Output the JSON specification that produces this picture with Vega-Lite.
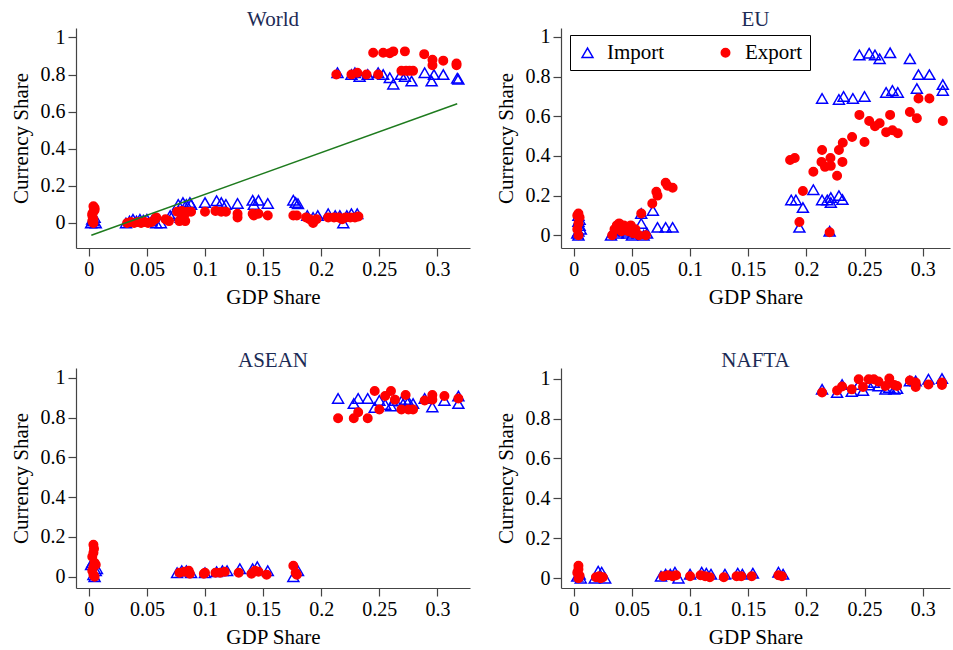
{
"$schema": "https://vega.github.io/schema/vega-lite/v6.json",
"padding": {"left": 10, "top": 8, "right": 0, "bottom": 0},
"background": "white",
"bounds": "flush",
"columns": 2,
"spacing": {"row": 120, "column": 91},
"resolve": {"legend": {"shape": "independent", "fill": "independent", "stroke": "independent", "size": "independent"}},
"datasets": {
"fit": [{"gdp": 0.0022, "share": -0.066}, {"gdp": 0.317, "share": 0.643}],
"points": [
{"panel":"World","type":"Import","gdp":0.002,"share":0.0},{"panel":"World","type":"Import","gdp":0.004,"share":0.01},{"panel":"World","type":"Import","gdp":0.005,"share":0.03},{"panel":"World","type":"Import","gdp":0.003,"share":0.02},{"panel":"World","type":"Import","gdp":0.006,"share":0.0},
{"panel":"World","type":"Import","gdp":0.032,"share":0.0},{"panel":"World","type":"Import","gdp":0.035,"share":0.01},{"panel":"World","type":"Import","gdp":0.038,"share":0.02},{"panel":"World","type":"Import","gdp":0.041,"share":0.01},{"panel":"World","type":"Import","gdp":0.044,"share":0.02},{"panel":"World","type":"Import","gdp":0.047,"share":0.015},{"panel":"World","type":"Import","gdp":0.05,"share":0.02},{"panel":"World","type":"Import","gdp":0.054,"share":0.01},{"panel":"World","type":"Import","gdp":0.058,"share":0.0},{"panel":"World","type":"Import","gdp":0.062,"share":0.0},
{"panel":"World","type":"Import","gdp":0.07,"share":0.04},{"panel":"World","type":"Import","gdp":0.073,"share":0.05},{"panel":"World","type":"Import","gdp":0.077,"share":0.1},{"panel":"World","type":"Import","gdp":0.079,"share":0.03},{"panel":"World","type":"Import","gdp":0.081,"share":0.11},{"panel":"World","type":"Import","gdp":0.084,"share":0.1},{"panel":"World","type":"Import","gdp":0.087,"share":0.11},{"panel":"World","type":"Import","gdp":0.088,"share":0.1},
{"panel":"World","type":"Import","gdp":0.1,"share":0.11},{"panel":"World","type":"Import","gdp":0.11,"share":0.12},{"panel":"World","type":"Import","gdp":0.114,"share":0.11},{"panel":"World","type":"Import","gdp":0.118,"share":0.1},{"panel":"World","type":"Import","gdp":0.128,"share":0.105},
{"panel":"World","type":"Import","gdp":0.141,"share":0.122},{"panel":"World","type":"Import","gdp":0.142,"share":0.1},{"panel":"World","type":"Import","gdp":0.146,"share":0.122},{"panel":"World","type":"Import","gdp":0.154,"share":0.105},
{"panel":"World","type":"Import","gdp":0.176,"share":0.123},{"panel":"World","type":"Import","gdp":0.18,"share":0.104},{"panel":"World","type":"Import","gdp":0.178,"share":0.11},
{"panel":"World","type":"Import","gdp":0.188,"share":0.04},{"panel":"World","type":"Import","gdp":0.193,"share":0.03},{"panel":"World","type":"Import","gdp":0.197,"share":0.04},
{"panel":"World","type":"Import","gdp":0.206,"share":0.05},{"panel":"World","type":"Import","gdp":0.212,"share":0.04},{"panel":"World","type":"Import","gdp":0.216,"share":0.04},{"panel":"World","type":"Import","gdp":0.219,"share":0.0},{"panel":"World","type":"Import","gdp":0.222,"share":0.04},{"panel":"World","type":"Import","gdp":0.226,"share":0.05},{"panel":"World","type":"Import","gdp":0.231,"share":0.05},
{"panel":"World","type":"Import","gdp":0.214,"share":0.81},{"panel":"World","type":"Import","gdp":0.226,"share":0.80},{"panel":"World","type":"Import","gdp":0.229,"share":0.81},{"panel":"World","type":"Import","gdp":0.233,"share":0.79},{"panel":"World","type":"Import","gdp":0.24,"share":0.80},{"panel":"World","type":"Import","gdp":0.249,"share":0.81},{"panel":"World","type":"Import","gdp":0.2533,"share":0.80},{"panel":"World","type":"Import","gdp":0.259,"share":0.783},{"panel":"World","type":"Import","gdp":0.262,"share":0.748},{"panel":"World","type":"Import","gdp":0.2685,"share":0.80},{"panel":"World","type":"Import","gdp":0.272,"share":0.79},{"panel":"World","type":"Import","gdp":0.2777,"share":0.765},{"panel":"World","type":"Import","gdp":0.289,"share":0.81},{"panel":"World","type":"Import","gdp":0.295,"share":0.765},{"panel":"World","type":"Import","gdp":0.297,"share":0.80},{"panel":"World","type":"Import","gdp":0.305,"share":0.80},{"panel":"World","type":"Import","gdp":0.317,"share":0.78},{"panel":"World","type":"Import","gdp":0.318,"share":0.775},
{"panel":"World","type":"Export","gdp":0.004,"share":0.0},{"panel":"World","type":"Export","gdp":0.004,"share":0.02},{"panel":"World","type":"Export","gdp":0.003,"share":0.04},{"panel":"World","type":"Export","gdp":0.004,"share":0.06},{"panel":"World","type":"Export","gdp":0.005,"share":0.08},{"panel":"World","type":"Export","gdp":0.004,"share":0.09},{"panel":"World","type":"Export","gdp":0.003,"share":0.05},{"panel":"World","type":"Export","gdp":0.005,"share":0.07},{"panel":"World","type":"Export","gdp":0.003,"share":0.01},
{"panel":"World","type":"Export","gdp":0.033,"share":0.0},{"panel":"World","type":"Export","gdp":0.036,"share":0.005},{"panel":"World","type":"Export","gdp":0.039,"share":0.0},{"panel":"World","type":"Export","gdp":0.042,"share":0.005},{"panel":"World","type":"Export","gdp":0.045,"share":0.0},{"panel":"World","type":"Export","gdp":0.048,"share":0.005},{"panel":"World","type":"Export","gdp":0.051,"share":0.0},{"panel":"World","type":"Export","gdp":0.054,"share":0.005},{"panel":"World","type":"Export","gdp":0.057,"share":0.02},{"panel":"World","type":"Export","gdp":0.058,"share":0.03},
{"panel":"World","type":"Export","gdp":0.066,"share":0.02},{"panel":"World","type":"Export","gdp":0.069,"share":0.01},{"panel":"World","type":"Export","gdp":0.076,"share":0.06},{"panel":"World","type":"Export","gdp":0.078,"share":0.01},{"panel":"World","type":"Export","gdp":0.08,"share":0.065},{"panel":"World","type":"Export","gdp":0.082,"share":0.04},{"panel":"World","type":"Export","gdp":0.083,"share":0.01},{"panel":"World","type":"Export","gdp":0.085,"share":0.06},{"panel":"World","type":"Export","gdp":0.088,"share":0.06},
{"panel":"World","type":"Export","gdp":0.1,"share":0.06},{"panel":"World","type":"Export","gdp":0.109,"share":0.065},{"panel":"World","type":"Export","gdp":0.114,"share":0.06},{"panel":"World","type":"Export","gdp":0.118,"share":0.06},{"panel":"World","type":"Export","gdp":0.128,"share":0.05},{"panel":"World","type":"Export","gdp":0.128,"share":0.03},
{"panel":"World","type":"Export","gdp":0.141,"share":0.05},{"panel":"World","type":"Export","gdp":0.142,"share":0.04},{"panel":"World","type":"Export","gdp":0.146,"share":0.05},{"panel":"World","type":"Export","gdp":0.154,"share":0.04},{"panel":"World","type":"Export","gdp":0.176,"share":0.04},{"panel":"World","type":"Export","gdp":0.179,"share":0.04},
{"panel":"World","type":"Export","gdp":0.187,"share":0.03},{"panel":"World","type":"Export","gdp":0.19,"share":0.02},{"panel":"World","type":"Export","gdp":0.193,"share":0.0},{"panel":"World","type":"Export","gdp":0.196,"share":0.02},
{"panel":"World","type":"Export","gdp":0.206,"share":0.03},{"panel":"World","type":"Export","gdp":0.211,"share":0.03},{"panel":"World","type":"Export","gdp":0.215,"share":0.03},{"panel":"World","type":"Export","gdp":0.218,"share":0.02},{"panel":"World","type":"Export","gdp":0.221,"share":0.03},{"panel":"World","type":"Export","gdp":0.225,"share":0.03},{"panel":"World","type":"Export","gdp":0.229,"share":0.03},{"panel":"World","type":"Export","gdp":0.232,"share":0.035},
{"panel":"World","type":"Export","gdp":0.213,"share":0.80},{"panel":"World","type":"Export","gdp":0.226,"share":0.80},{"panel":"World","type":"Export","gdp":0.231,"share":0.81},{"panel":"World","type":"Export","gdp":0.239,"share":0.80},{"panel":"World","type":"Export","gdp":0.2447,"share":0.918},{"panel":"World","type":"Export","gdp":0.249,"share":0.80},{"panel":"World","type":"Export","gdp":0.2533,"share":0.918},{"panel":"World","type":"Export","gdp":0.259,"share":0.915},{"panel":"World","type":"Export","gdp":0.262,"share":0.925},{"panel":"World","type":"Export","gdp":0.269,"share":0.82},{"panel":"World","type":"Export","gdp":0.272,"share":0.925},{"panel":"World","type":"Export","gdp":0.273,"share":0.82},{"panel":"World","type":"Export","gdp":0.276,"share":0.82},{"panel":"World","type":"Export","gdp":0.279,"share":0.82},{"panel":"World","type":"Export","gdp":0.2886,"share":0.91},{"panel":"World","type":"Export","gdp":0.2957,"share":0.88},{"panel":"World","type":"Export","gdp":0.2957,"share":0.85},{"panel":"World","type":"Export","gdp":0.305,"share":0.875},{"panel":"World","type":"Export","gdp":0.3164,"share":0.86},{"panel":"World","type":"Export","gdp":0.3164,"share":0.85},

{"panel":"EU","type":"Import","gdp":0.004,"share":0.0},{"panel":"EU","type":"Import","gdp":0.004,"share":0.02},{"panel":"EU","type":"Import","gdp":0.005,"share":0.05},{"panel":"EU","type":"Import","gdp":0.004,"share":0.07},{"panel":"EU","type":"Import","gdp":0.005,"share":0.08},{"panel":"EU","type":"Import","gdp":0.004,"share":0.1},{"panel":"EU","type":"Import","gdp":0.003,"share":0.01},{"panel":"EU","type":"Import","gdp":0.006,"share":0.03},
{"panel":"EU","type":"Import","gdp":0.032,"share":0.0},{"panel":"EU","type":"Import","gdp":0.034,"share":0.02},{"panel":"EU","type":"Import","gdp":0.036,"share":0.04},{"panel":"EU","type":"Import","gdp":0.038,"share":0.01},{"panel":"EU","type":"Import","gdp":0.04,"share":0.03},{"panel":"EU","type":"Import","gdp":0.042,"share":0.045},{"panel":"EU","type":"Import","gdp":0.044,"share":0.02},{"panel":"EU","type":"Import","gdp":0.046,"share":0.01},{"panel":"EU","type":"Import","gdp":0.048,"share":0.03},{"panel":"EU","type":"Import","gdp":0.05,"share":0.0},{"panel":"EU","type":"Import","gdp":0.052,"share":0.02},{"panel":"EU","type":"Import","gdp":0.055,"share":0.01},{"panel":"EU","type":"Import","gdp":0.058,"share":0.11},{"panel":"EU","type":"Import","gdp":0.058,"share":0.06},{"panel":"EU","type":"Import","gdp":0.06,"share":0.0},{"panel":"EU","type":"Import","gdp":0.063,"share":0.01},{"panel":"EU","type":"Import","gdp":0.068,"share":0.125},{"panel":"EU","type":"Import","gdp":0.072,"share":0.04},{"panel":"EU","type":"Import","gdp":0.079,"share":0.04},{"panel":"EU","type":"Import","gdp":0.085,"share":0.04},
{"panel":"EU","type":"Import","gdp":0.187,"share":0.178},{"panel":"EU","type":"Import","gdp":0.191,"share":0.178},{"panel":"EU","type":"Import","gdp":0.197,"share":0.14},{"panel":"EU","type":"Import","gdp":0.194,"share":0.04},{"panel":"EU","type":"Import","gdp":0.206,"share":0.23},{"panel":"EU","type":"Import","gdp":0.2135,"share":0.69},{"panel":"EU","type":"Import","gdp":0.2135,"share":0.178},{"panel":"EU","type":"Import","gdp":0.218,"share":0.178},{"panel":"EU","type":"Import","gdp":0.22,"share":0.02},{"panel":"EU","type":"Import","gdp":0.221,"share":0.19},{"panel":"EU","type":"Import","gdp":0.221,"share":0.165},{"panel":"EU","type":"Import","gdp":0.228,"share":0.2},{"panel":"EU","type":"Import","gdp":0.231,"share":0.18},{"panel":"EU","type":"Import","gdp":0.228,"share":0.685},{"panel":"EU","type":"Import","gdp":0.232,"share":0.70},{"panel":"EU","type":"Import","gdp":0.24,"share":0.69},{"panel":"EU","type":"Import","gdp":0.2456,"share":0.909},{"panel":"EU","type":"Import","gdp":0.25,"share":0.70},{"panel":"EU","type":"Import","gdp":0.254,"share":0.918},{"panel":"EU","type":"Import","gdp":0.259,"share":0.909},{"panel":"EU","type":"Import","gdp":0.263,"share":0.89},{"panel":"EU","type":"Import","gdp":0.2686,"share":0.72},{"panel":"EU","type":"Import","gdp":0.272,"share":0.92},{"panel":"EU","type":"Import","gdp":0.274,"share":0.73},{"panel":"EU","type":"Import","gdp":0.2786,"share":0.72},{"panel":"EU","type":"Import","gdp":0.289,"share":0.89},{"panel":"EU","type":"Import","gdp":0.295,"share":0.74},{"panel":"EU","type":"Import","gdp":0.2964,"share":0.81},{"panel":"EU","type":"Import","gdp":0.3058,"share":0.81},{"panel":"EU","type":"Import","gdp":0.3173,"share":0.76},{"panel":"EU","type":"Import","gdp":0.3173,"share":0.73},
{"panel":"EU","type":"Export","gdp":0.004,"share":0.11},{"panel":"EU","type":"Export","gdp":0.004,"share":0.0},{"panel":"EU","type":"Export","gdp":0.003,"share":0.03},{"panel":"EU","type":"Export","gdp":0.005,"share":0.09},{"panel":"EU","type":"Export","gdp":0.004,"share":0.06},{"panel":"EU","type":"Export","gdp":0.003,"share":0.1},
{"panel":"EU","type":"Export","gdp":0.033,"share":0.0},{"panel":"EU","type":"Export","gdp":0.035,"share":0.03},{"panel":"EU","type":"Export","gdp":0.037,"share":0.05},{"panel":"EU","type":"Export","gdp":0.039,"share":0.06},{"panel":"EU","type":"Export","gdp":0.041,"share":0.02},{"panel":"EU","type":"Export","gdp":0.043,"share":0.05},{"panel":"EU","type":"Export","gdp":0.045,"share":0.04},{"panel":"EU","type":"Export","gdp":0.047,"share":0.02},{"panel":"EU","type":"Export","gdp":0.049,"share":0.05},{"panel":"EU","type":"Export","gdp":0.051,"share":0.01},{"panel":"EU","type":"Export","gdp":0.053,"share":0.03},{"panel":"EU","type":"Export","gdp":0.056,"share":0.0},{"panel":"EU","type":"Export","gdp":0.058,"share":0.11},{"panel":"EU","type":"Export","gdp":0.062,"share":0.0},
{"panel":"EU","type":"Export","gdp":0.0675,"share":0.16},{"panel":"EU","type":"Export","gdp":0.071,"share":0.22},{"panel":"EU","type":"Export","gdp":0.072,"share":0.2},{"panel":"EU","type":"Export","gdp":0.079,"share":0.265},{"panel":"EU","type":"Export","gdp":0.0806,"share":0.25},{"panel":"EU","type":"Export","gdp":0.085,"share":0.24},
{"panel":"EU","type":"Export","gdp":0.186,"share":0.38},{"panel":"EU","type":"Export","gdp":0.19,"share":0.39},{"panel":"EU","type":"Export","gdp":0.197,"share":0.223},{"panel":"EU","type":"Export","gdp":0.194,"share":0.067},{"panel":"EU","type":"Export","gdp":0.206,"share":0.32},{"panel":"EU","type":"Export","gdp":0.2135,"share":0.43},{"panel":"EU","type":"Export","gdp":0.213,"share":0.37},{"panel":"EU","type":"Export","gdp":0.216,"share":0.345},{"panel":"EU","type":"Export","gdp":0.2207,"share":0.39},{"panel":"EU","type":"Export","gdp":0.221,"share":0.35},{"panel":"EU","type":"Export","gdp":0.22,"share":0.015},{"panel":"EU","type":"Export","gdp":0.2264,"share":0.30},{"panel":"EU","type":"Export","gdp":0.228,"share":0.43},{"panel":"EU","type":"Export","gdp":0.2313,"share":0.467},{"panel":"EU","type":"Export","gdp":0.231,"share":0.37},{"panel":"EU","type":"Export","gdp":0.2393,"share":0.496},{"panel":"EU","type":"Export","gdp":0.2456,"share":0.607},{"panel":"EU","type":"Export","gdp":0.25,"share":0.47},{"panel":"EU","type":"Export","gdp":0.254,"share":0.576},{"panel":"EU","type":"Export","gdp":0.259,"share":0.55},{"panel":"EU","type":"Export","gdp":0.263,"share":0.565},{"panel":"EU","type":"Export","gdp":0.2686,"share":0.52},{"panel":"EU","type":"Export","gdp":0.272,"share":0.607},{"panel":"EU","type":"Export","gdp":0.274,"share":0.53},{"panel":"EU","type":"Export","gdp":0.2786,"share":0.515},{"panel":"EU","type":"Export","gdp":0.289,"share":0.622},{"panel":"EU","type":"Export","gdp":0.295,"share":0.59},{"panel":"EU","type":"Export","gdp":0.2964,"share":0.69},{"panel":"EU","type":"Export","gdp":0.3058,"share":0.69},{"panel":"EU","type":"Export","gdp":0.3173,"share":0.576},

{"panel":"ASEAN","type":"Import","gdp":0.003,"share":0.07},{"panel":"ASEAN","type":"Import","gdp":0.006,"share":0.03},{"panel":"ASEAN","type":"Import","gdp":0.004,"share":0.01},{"panel":"ASEAN","type":"Import","gdp":0.007,"share":0.04},{"panel":"ASEAN","type":"Import","gdp":0.002,"share":0.06},{"panel":"ASEAN","type":"Import","gdp":0.005,"share":0.0},
{"panel":"ASEAN","type":"Import","gdp":0.076,"share":0.02},{"panel":"ASEAN","type":"Import","gdp":0.08,"share":0.03},{"panel":"ASEAN","type":"Import","gdp":0.084,"share":0.03},{"panel":"ASEAN","type":"Import","gdp":0.088,"share":0.02},{"panel":"ASEAN","type":"Import","gdp":0.1,"share":0.02},{"panel":"ASEAN","type":"Import","gdp":0.11,"share":0.025},{"panel":"ASEAN","type":"Import","gdp":0.115,"share":0.03},{"panel":"ASEAN","type":"Import","gdp":0.119,"share":0.03},{"panel":"ASEAN","type":"Import","gdp":0.13,"share":0.04},{"panel":"ASEAN","type":"Import","gdp":0.141,"share":0.04},{"panel":"ASEAN","type":"Import","gdp":0.145,"share":0.05},{"panel":"ASEAN","type":"Import","gdp":0.154,"share":0.03},{"panel":"ASEAN","type":"Import","gdp":0.176,"share":0.0},{"panel":"ASEAN","type":"Import","gdp":0.18,"share":0.03},
{"panel":"ASEAN","type":"Import","gdp":0.2145,"share":0.896},{"panel":"ASEAN","type":"Import","gdp":0.228,"share":0.87},{"panel":"ASEAN","type":"Import","gdp":0.2318,"share":0.896},{"panel":"ASEAN","type":"Import","gdp":0.24,"share":0.896},{"panel":"ASEAN","type":"Import","gdp":0.246,"share":0.85},{"panel":"ASEAN","type":"Import","gdp":0.25,"share":0.886},{"panel":"ASEAN","type":"Import","gdp":0.255,"share":0.866},{"panel":"ASEAN","type":"Import","gdp":0.26,"share":0.858},{"panel":"ASEAN","type":"Import","gdp":0.2634,"share":0.886},{"panel":"ASEAN","type":"Import","gdp":0.269,"share":0.883},{"panel":"ASEAN","type":"Import","gdp":0.2726,"share":0.89},{"panel":"ASEAN","type":"Import","gdp":0.275,"share":0.88},{"panel":"ASEAN","type":"Import","gdp":0.279,"share":0.87},{"panel":"ASEAN","type":"Import","gdp":0.289,"share":0.896},{"panel":"ASEAN","type":"Import","gdp":0.2956,"share":0.853},{"panel":"ASEAN","type":"Import","gdp":0.306,"share":0.886},{"panel":"ASEAN","type":"Import","gdp":0.318,"share":0.908},{"panel":"ASEAN","type":"Import","gdp":0.318,"share":0.87},
{"panel":"ASEAN","type":"Export","gdp":0.004,"share":0.16},{"panel":"ASEAN","type":"Export","gdp":0.0045,"share":0.14},{"panel":"ASEAN","type":"Export","gdp":0.004,"share":0.12},{"panel":"ASEAN","type":"Export","gdp":0.003,"share":0.1},{"panel":"ASEAN","type":"Export","gdp":0.005,"share":0.07},{"panel":"ASEAN","type":"Export","gdp":0.004,"share":0.05},{"panel":"ASEAN","type":"Export","gdp":0.003,"share":0.03},{"panel":"ASEAN","type":"Export","gdp":0.004,"share":0.01},{"panel":"ASEAN","type":"Export","gdp":0.005,"share":0.0},{"panel":"ASEAN","type":"Export","gdp":0.006,"share":0.06},
{"panel":"ASEAN","type":"Export","gdp":0.078,"share":0.02},{"panel":"ASEAN","type":"Export","gdp":0.082,"share":0.025},{"panel":"ASEAN","type":"Export","gdp":0.086,"share":0.03},{"panel":"ASEAN","type":"Export","gdp":0.087,"share":0.015},{"panel":"ASEAN","type":"Export","gdp":0.1,"share":0.02},{"panel":"ASEAN","type":"Export","gdp":0.099,"share":0.015},{"panel":"ASEAN","type":"Export","gdp":0.109,"share":0.02},{"panel":"ASEAN","type":"Export","gdp":0.113,"share":0.02},{"panel":"ASEAN","type":"Export","gdp":0.117,"share":0.025},{"panel":"ASEAN","type":"Export","gdp":0.129,"share":0.02},{"panel":"ASEAN","type":"Export","gdp":0.14,"share":0.015},{"panel":"ASEAN","type":"Export","gdp":0.143,"share":0.03},{"panel":"ASEAN","type":"Export","gdp":0.146,"share":0.025},{"panel":"ASEAN","type":"Export","gdp":0.153,"share":0.01},{"panel":"ASEAN","type":"Export","gdp":0.176,"share":0.055},{"panel":"ASEAN","type":"Export","gdp":0.178,"share":0.02},{"panel":"ASEAN","type":"Export","gdp":0.179,"share":0.01},
{"panel":"ASEAN","type":"Export","gdp":0.2145,"share":0.796},{"panel":"ASEAN","type":"Export","gdp":0.228,"share":0.796},{"panel":"ASEAN","type":"Export","gdp":0.2318,"share":0.827},{"panel":"ASEAN","type":"Export","gdp":0.24,"share":0.796},{"panel":"ASEAN","type":"Export","gdp":0.246,"share":0.933},{"panel":"ASEAN","type":"Export","gdp":0.25,"share":0.84},{"panel":"ASEAN","type":"Export","gdp":0.255,"share":0.908},{"panel":"ASEAN","type":"Export","gdp":0.26,"share":0.933},{"panel":"ASEAN","type":"Export","gdp":0.2634,"share":0.89},{"panel":"ASEAN","type":"Export","gdp":0.269,"share":0.84},{"panel":"ASEAN","type":"Export","gdp":0.2726,"share":0.913},{"panel":"ASEAN","type":"Export","gdp":0.275,"share":0.84},{"panel":"ASEAN","type":"Export","gdp":0.279,"share":0.84},{"panel":"ASEAN","type":"Export","gdp":0.289,"share":0.886},{"panel":"ASEAN","type":"Export","gdp":0.2956,"share":0.913},{"panel":"ASEAN","type":"Export","gdp":0.2956,"share":0.89},{"panel":"ASEAN","type":"Export","gdp":0.306,"share":0.908},{"panel":"ASEAN","type":"Export","gdp":0.318,"share":0.896},

{"panel":"NAFTA","type":"Import","gdp":0.003,"share":0.01},{"panel":"NAFTA","type":"Import","gdp":0.005,"share":0.02},{"panel":"NAFTA","type":"Import","gdp":0.006,"share":0.0},{"panel":"NAFTA","type":"Import","gdp":0.018,"share":0.0},{"panel":"NAFTA","type":"Import","gdp":0.021,"share":0.035},{"panel":"NAFTA","type":"Import","gdp":0.024,"share":0.03},{"panel":"NAFTA","type":"Import","gdp":0.027,"share":0.0},
{"panel":"NAFTA","type":"Import","gdp":0.075,"share":0.01},{"panel":"NAFTA","type":"Import","gdp":0.079,"share":0.02},{"panel":"NAFTA","type":"Import","gdp":0.083,"share":0.02},{"panel":"NAFTA","type":"Import","gdp":0.087,"share":0.03},{"panel":"NAFTA","type":"Import","gdp":0.09,"share":0.0},{"panel":"NAFTA","type":"Import","gdp":0.1,"share":0.02},{"panel":"NAFTA","type":"Import","gdp":0.11,"share":0.03},{"panel":"NAFTA","type":"Import","gdp":0.114,"share":0.025},{"panel":"NAFTA","type":"Import","gdp":0.118,"share":0.02},{"panel":"NAFTA","type":"Import","gdp":0.13,"share":0.02},{"panel":"NAFTA","type":"Import","gdp":0.141,"share":0.025},{"panel":"NAFTA","type":"Import","gdp":0.145,"share":0.02},{"panel":"NAFTA","type":"Import","gdp":0.154,"share":0.025},{"panel":"NAFTA","type":"Import","gdp":0.176,"share":0.03},{"panel":"NAFTA","type":"Import","gdp":0.18,"share":0.02},
{"panel":"NAFTA","type":"Import","gdp":0.2135,"share":0.946},{"panel":"NAFTA","type":"Import","gdp":0.2264,"share":0.93},{"panel":"NAFTA","type":"Import","gdp":0.2307,"share":0.97},{"panel":"NAFTA","type":"Import","gdp":0.239,"share":0.935},{"panel":"NAFTA","type":"Import","gdp":0.245,"share":0.97},{"panel":"NAFTA","type":"Import","gdp":0.2487,"share":0.94},{"panel":"NAFTA","type":"Import","gdp":0.2536,"share":0.968},{"panel":"NAFTA","type":"Import","gdp":0.258,"share":0.98},{"panel":"NAFTA","type":"Import","gdp":0.262,"share":0.963},{"panel":"NAFTA","type":"Import","gdp":0.268,"share":0.946},{"panel":"NAFTA","type":"Import","gdp":0.2713,"share":0.955},{"panel":"NAFTA","type":"Import","gdp":0.2756,"share":0.946},{"panel":"NAFTA","type":"Import","gdp":0.278,"share":0.95},{"panel":"NAFTA","type":"Import","gdp":0.289,"share":0.988},{"panel":"NAFTA","type":"Import","gdp":0.294,"share":0.988},{"panel":"NAFTA","type":"Import","gdp":0.305,"share":0.997},{"panel":"NAFTA","type":"Import","gdp":0.3166,"share":1.0},
{"panel":"NAFTA","type":"Export","gdp":0.004,"share":0.062},{"panel":"NAFTA","type":"Export","gdp":0.004,"share":0.045},{"panel":"NAFTA","type":"Export","gdp":0.003,"share":0.028},{"panel":"NAFTA","type":"Export","gdp":0.005,"share":0.012},{"panel":"NAFTA","type":"Export","gdp":0.004,"share":0.0},{"panel":"NAFTA","type":"Export","gdp":0.019,"share":0.005},{"panel":"NAFTA","type":"Export","gdp":0.022,"share":0.01},{"panel":"NAFTA","type":"Export","gdp":0.025,"share":0.005},{"panel":"NAFTA","type":"Export","gdp":0.023,"share":0.0},
{"panel":"NAFTA","type":"Export","gdp":0.077,"share":0.01},{"panel":"NAFTA","type":"Export","gdp":0.081,"share":0.015},{"panel":"NAFTA","type":"Export","gdp":0.085,"share":0.01},{"panel":"NAFTA","type":"Export","gdp":0.088,"share":0.015},{"panel":"NAFTA","type":"Export","gdp":0.1,"share":0.01},{"panel":"NAFTA","type":"Export","gdp":0.109,"share":0.015},{"panel":"NAFTA","type":"Export","gdp":0.113,"share":0.01},{"panel":"NAFTA","type":"Export","gdp":0.117,"share":0.005},{"panel":"NAFTA","type":"Export","gdp":0.129,"share":0.005},{"panel":"NAFTA","type":"Export","gdp":0.14,"share":0.01},{"panel":"NAFTA","type":"Export","gdp":0.144,"share":0.01},{"panel":"NAFTA","type":"Export","gdp":0.153,"share":0.01},{"panel":"NAFTA","type":"Export","gdp":0.176,"share":0.015},{"panel":"NAFTA","type":"Export","gdp":0.179,"share":0.01},
{"panel":"NAFTA","type":"Export","gdp":0.2135,"share":0.93},{"panel":"NAFTA","type":"Export","gdp":0.2264,"share":0.94},{"panel":"NAFTA","type":"Export","gdp":0.2307,"share":0.96},{"panel":"NAFTA","type":"Export","gdp":0.239,"share":0.946},{"panel":"NAFTA","type":"Export","gdp":0.245,"share":0.997},{"panel":"NAFTA","type":"Export","gdp":0.2487,"share":0.958},{"panel":"NAFTA","type":"Export","gdp":0.2536,"share":0.997},{"panel":"NAFTA","type":"Export","gdp":0.258,"share":0.997},{"panel":"NAFTA","type":"Export","gdp":0.262,"share":0.985},{"panel":"NAFTA","type":"Export","gdp":0.268,"share":0.963},{"panel":"NAFTA","type":"Export","gdp":0.2713,"share":1.0},{"panel":"NAFTA","type":"Export","gdp":0.2756,"share":0.968},{"panel":"NAFTA","type":"Export","gdp":0.278,"share":0.963},{"panel":"NAFTA","type":"Export","gdp":0.289,"share":0.99},{"panel":"NAFTA","type":"Export","gdp":0.294,"share":0.958},{"panel":"NAFTA","type":"Export","gdp":0.294,"share":0.98},{"panel":"NAFTA","type":"Export","gdp":0.305,"share":0.97},{"panel":"NAFTA","type":"Export","gdp":0.3166,"share":0.968},{"panel":"NAFTA","type":"Export","gdp":0.3166,"share":0.98}
]
},
"concat": [
{
"width": 394, "height": 220,
"title": "World",
"layer": [
{
"data": {"name": "points"},
"transform": [{"filter": "datum.panel == 'World'"}],
"mark": {"type": "point", "filled": true, "strokeWidth": 1.5, "opacity": 1},
"encoding": {
"x": {"field": "gdp", "type": "quantitative", "title": "GDP Share", "scale": {"domain": [-0.011, 0.328], "nice": false, "zero": false}, "axis": {"values": [0, 0.05, 0.1, 0.15, 0.2, 0.25, 0.3], "format": "~g"}},
"y": {"field": "share", "type": "quantitative", "title": "Currency Share", "scale": {"domain": [-0.135, 1.051], "nice": false, "zero": false}, "axis": {"values": [0, 0.2, 0.4, 0.6, 0.8, 1], "format": "~g"}},
"shape": {"field": "type", "type": "nominal", "scale": {"domain": ["Import", "Export"], "range": ["triangle-up", "circle"]}, "legend": null},
"fill": {"field": "type", "type": "nominal", "scale": {"domain": ["Import", "Export"], "range": ["transparent", "#ff0000"]}, "legend": null},
"stroke": {"field": "type", "type": "nominal", "scale": {"domain": ["Import", "Export"], "range": ["#0000ff", "#ff0000"]}, "legend": null},
"size": {"field": "type", "type": "nominal", "scale": {"domain": ["Import", "Export"], "range": [120, 72]}, "legend": null}
}
},
{
"data": {"name": "fit"},
"mark": {"type": "line", "color": "#1e7b1e", "strokeWidth": 1.5},
"encoding": {
"x": {"field": "gdp", "type": "quantitative", "scale": {"domain": [-0.011, 0.328], "nice": false, "zero": false}},
"y": {"field": "share", "type": "quantitative", "scale": {"domain": [-0.135, 1.051], "nice": false, "zero": false}}
}
}
]
},
{
"width": 389, "height": 220,
"title": "EU",
"data": {"name": "points"},
"transform": [{"filter": "datum.panel == 'EU'"}],
"mark": {"type": "point", "filled": true, "strokeWidth": 1.5, "opacity": 1},
"encoding": {
"x": {"field": "gdp", "type": "quantitative", "title": "GDP Share", "scale": {"domain": [-0.011, 0.3235], "nice": false, "zero": false}, "axis": {"values": [0, 0.05, 0.1, 0.15, 0.2, 0.25, 0.3], "format": "~g"}},
"y": {"field": "share", "type": "quantitative", "title": "Currency Share", "scale": {"domain": [-0.064, 1.045], "nice": false, "zero": false}, "axis": {"values": [0, 0.2, 0.4, 0.6, 0.8, 1], "format": "~g"}},
"shape": {"field": "type", "type": "nominal", "scale": {"domain": ["Import", "Export"], "range": ["triangle-up", "circle"]}, "legend": {"orient": "none", "legendX": 9, "legendY": 7, "direction": "horizontal", "title": null, "strokeColor": "#000", "fillColor": "#fff", "padding": 7, "labelFont": "Liberation Serif", "labelFontSize": 21, "labelColor": "#000", "symbolStrokeWidth": 1.5, "labelOffset": 9, "columnPadding": 50, "labelExpr": "datum.label == 'Export' ? datum.label + '\u00a0\u00a0\u00a0' : datum.label"}},
"fill": {"field": "type", "type": "nominal", "scale": {"domain": ["Import", "Export"], "range": ["transparent", "#ff0000"]}, "legend": {"orient": "none", "legendX": 9, "legendY": 7, "direction": "horizontal", "title": null, "strokeColor": "#000", "fillColor": "#fff", "padding": 7, "labelFont": "Liberation Serif", "labelFontSize": 21, "labelColor": "#000", "symbolStrokeWidth": 1.5, "labelOffset": 9, "columnPadding": 50, "labelExpr": "datum.label == 'Export' ? datum.label + '\u00a0\u00a0\u00a0' : datum.label"}},
"stroke": {"field": "type", "type": "nominal", "scale": {"domain": ["Import", "Export"], "range": ["#0000ff", "#ff0000"]}, "legend": {"orient": "none", "legendX": 9, "legendY": 7, "direction": "horizontal", "title": null, "strokeColor": "#000", "fillColor": "#fff", "padding": 7, "labelFont": "Liberation Serif", "labelFontSize": 21, "labelColor": "#000", "symbolStrokeWidth": 1.5, "labelOffset": 9, "columnPadding": 50, "labelExpr": "datum.label == 'Export' ? datum.label + '\u00a0\u00a0\u00a0' : datum.label"}},
"size": {"field": "type", "type": "nominal", "scale": {"domain": ["Import", "Export"], "range": [120, 72]}, "legend": {"orient": "none", "legendX": 9, "legendY": 7, "direction": "horizontal", "title": null, "strokeColor": "#000", "fillColor": "#fff", "padding": 7, "labelFont": "Liberation Serif", "labelFontSize": 21, "labelColor": "#000", "symbolStrokeWidth": 1.5, "labelOffset": 9, "columnPadding": 50, "labelExpr": "datum.label == 'Export' ? datum.label + '\u00a0\u00a0\u00a0' : datum.label"}}
}
},
{
"width": 394, "height": 220,
"title": "ASEAN",
"data": {"name": "points"},
"transform": [{"filter": "datum.panel == 'ASEAN'"}],
"mark": {"type": "point", "filled": true, "strokeWidth": 1.5, "opacity": 1},
"encoding": {
"x": {"field": "gdp", "type": "quantitative", "title": "GDP Share", "scale": {"domain": [-0.011, 0.328], "nice": false, "zero": false}, "axis": {"values": [0, 0.05, 0.1, 0.15, 0.2, 0.25, 0.3], "format": "~g"}},
"y": {"field": "share", "type": "quantitative", "title": "Currency Share", "scale": {"domain": [-0.057, 1.049], "nice": false, "zero": false}, "axis": {"values": [0, 0.2, 0.4, 0.6, 0.8, 1], "format": "~g"}},
"shape": {"field": "type", "type": "nominal", "scale": {"domain": ["Import", "Export"], "range": ["triangle-up", "circle"]}, "legend": null},
"fill": {"field": "type", "type": "nominal", "scale": {"domain": ["Import", "Export"], "range": ["transparent", "#ff0000"]}, "legend": null},
"stroke": {"field": "type", "type": "nominal", "scale": {"domain": ["Import", "Export"], "range": ["#0000ff", "#ff0000"]}, "legend": null},
"size": {"field": "type", "type": "nominal", "scale": {"domain": ["Import", "Export"], "range": [120, 72]}, "legend": null}
}
},
{
"width": 389, "height": 220,
"title": "NAFTA",
"data": {"name": "points"},
"transform": [{"filter": "datum.panel == 'NAFTA'"}],
"mark": {"type": "point", "filled": true, "strokeWidth": 1.5, "opacity": 1},
"encoding": {
"x": {"field": "gdp", "type": "quantitative", "title": "GDP Share", "scale": {"domain": [-0.011, 0.3235], "nice": false, "zero": false}, "axis": {"values": [0, 0.05, 0.1, 0.15, 0.2, 0.25, 0.3], "format": "~g"}},
"y": {"field": "share", "type": "quantitative", "title": "Currency Share", "scale": {"domain": [-0.049, 1.053], "nice": false, "zero": false}, "axis": {"values": [0, 0.2, 0.4, 0.6, 0.8, 1], "format": "~g"}},
"shape": {"field": "type", "type": "nominal", "scale": {"domain": ["Import", "Export"], "range": ["triangle-up", "circle"]}, "legend": null},
"fill": {"field": "type", "type": "nominal", "scale": {"domain": ["Import", "Export"], "range": ["transparent", "#ff0000"]}, "legend": null},
"stroke": {"field": "type", "type": "nominal", "scale": {"domain": ["Import", "Export"], "range": ["#0000ff", "#ff0000"]}, "legend": null},
"size": {"field": "type", "type": "nominal", "scale": {"domain": ["Import", "Export"], "range": [120, 72]}, "legend": null}
}
}
],
"config": {
"font": "Liberation Serif",
"view": {"stroke": null},
"axis": {"grid": false, "labelFont": "Liberation Serif", "labelFontSize": 20, "titleFont": "Liberation Serif", "titleFontSize": 21, "titleFontWeight": "normal", "labelColor": "#000", "titleColor": "#000", "domainColor": "#444", "tickColor": "#444", "tickSize": 8, "labelPadding": 3, "domainWidth": 1.2, "tickWidth": 1.2, "labelFlush": false},
"axisX": {"titlePadding": 7},
"axisY": {"titlePadding": 9},
"title": {"font": "Liberation Serif", "fontSize": 21, "fontWeight": "normal", "color": "#1c2b55", "offset": -3},
"point": {"opacity": 1}
}
}
